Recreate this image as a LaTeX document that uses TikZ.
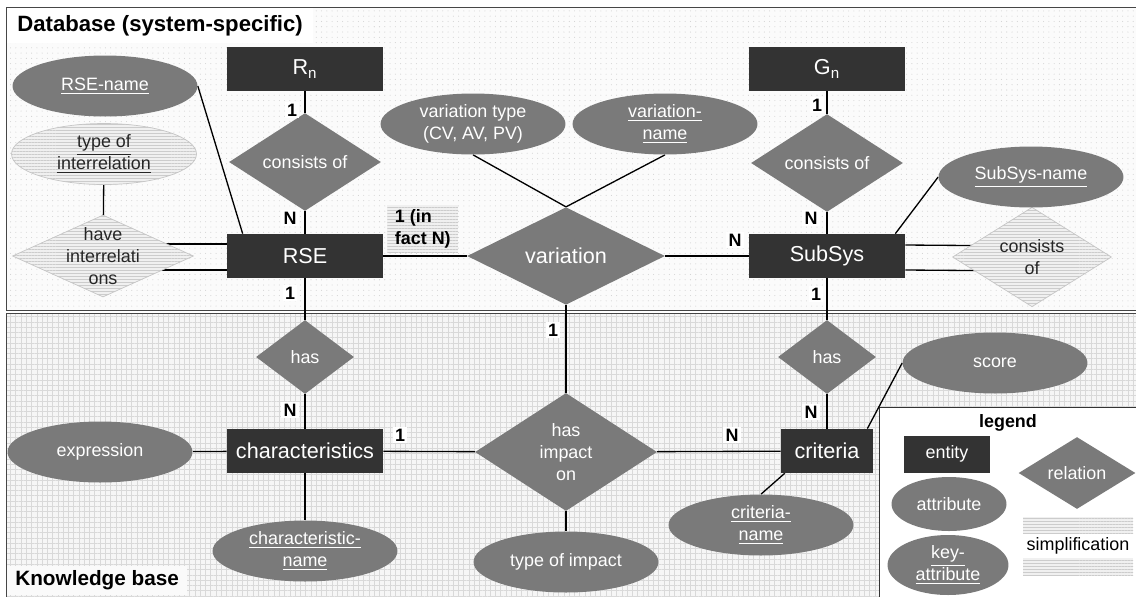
\documentclass[tikz,border=0pt]{standalone}
\usepackage{fontspec}
\setmainfont{Liberation Sans}
\usetikzlibrary{shapes.geometric,backgrounds,patterns.meta}
\newcommand{\entfont}{\fontsize{12.3}{14.5}\selectfont}
\newcommand{\attfont}{\fontsize{10.2}{12.3}\selectfont}

\begin{document}
\begin{tikzpicture}[x=0.02cm, y=-0.02cm,
    entity/.style={rectangle, fill=black!80, text=white, font=\entfont, inner sep=0pt, minimum width=3.12cm, minimum height=0.88cm},
    rel/.style={diamond, inner sep=0pt, font=\attfont, align=center, minimum width=3.04cm, minimum height=1.6cm},
    att/.style={ellipse, inner sep=0pt, font=\attfont, align=center, minimum width=3.7cm, minimum height=1.22cm},
    simpl/.style={preaction={fill=gray!12}, pattern={Lines[angle=0,distance=1.7pt,line width=0.35pt]}, pattern color=gray!40, text=black!85},
    relation/.style={rel, fill=black!52, text=white},
    simprel/.style={rel, simpl, draw=gray!45, thin},
    attribute/.style={att, fill=black!52, text=white},
    simpatt/.style={att, simpl, draw=gray!45, thin},
    card/.style={fill=white, font=\attfont\bfseries, inner sep=1.2pt},
    link/.style={line width=0.75pt}]
    \useasboundingbox (0,0) rectangle (1136,596);

    % entities
    \node[entity] (rn) at (305,69) {R\textsubscript{n}};
    \node[entity] (gn) at (827,69) {G\textsubscript{n}};
    \node[entity] (rse) at (305,256) {RSE};
    \node[entity] (subsys) at (827,256) {SubSys};
    \node[entity] (chars) at (305,451) {characteristics};
    \node[entity, minimum width=1.84cm] (crit) at (827,451) {criteria};

    % relations
    \node[relation] (consrse) at (305,162) {consists of};
    \node[relation] (conssub) at (827,163) {consists of};
    \node[relation, minimum width=3.96cm, minimum height=1.84cm, font=\entfont] (variation) at (566,256) {variation};
    \node[relation, minimum width=1.96cm, minimum height=1.48cm] (hasrse) at (305,357) {has};
    \node[relation, minimum width=1.96cm, minimum height=1.48cm] (hassub) at (827,357) {has};
    \node[relation, minimum width=3.64cm, minimum height=2.36cm] (impact) at (566,452) {has\\impact\\on};
    \node[simprel, minimum width=3.62cm, minimum height=1.64cm,
        label={[font=\attfont, align=center, text=black!85]center:have\\interrelati\\ons}] (interrel) at (103,256) {};
    \node[simprel, minimum width=3.18cm, minimum height=1.62cm] (conspart) at (1032,257) {consists\\of};

    % attributes
    \node[attribute] (rsename) at (105,86) {\underline{RSE-name}};
    \node[simpatt] (reltype) at (104,154) {\underline{type of}\\\underline{interrelation}};
    \node[attribute] (vartype) at (473,124) {variation type\\(CV, AV, PV)};
    \node[attribute] (varname) at (665,124) {\underline{variation-}\\\underline{name}};
    \node[attribute] (subname) at (1031,177) {\underline{SubSys-name}};
    \node[attribute] (expr) at (100,452) {expression};
    \node[attribute] (charname) at (305,551) {\underline{characteristic-}\\\underline{name}};
    \node[attribute] (imptype) at (566,562) {type of impact};
    \node[attribute] (critname) at (761,525) {\underline{criteria-}\\\underline{name}};
    \node[attribute] (score) at (995,363) {score};

    % titles
    \node[anchor=north west, fill=white, font=\fontsize{12.6}{15}\selectfont\bfseries, inner xsep=0.2cm, inner ysep=0.14cm] (dbtitle) at (7,8) {Database (system-specific)};
    \node[anchor=south west, fill=gray!4, font=\fontsize{11.8}{14}\selectfont\bfseries, inner xsep=0.16cm, inner ysep=0.09cm] (kbtitle) at (7,595) {Knowledge base};

    % legend
    \node[font=\attfont\bfseries] (legtitle) at (1008,423) {legend};
    \node[entity, minimum width=1.72cm, minimum height=0.74cm, font=\attfont] (legent) at (947,454) {entity};
    \node[relation, minimum width=2.34cm, minimum height=1.38cm] (legrel) at (1077,473) {relation};
    \node[attribute, minimum width=2.3cm, minimum height=1.08cm] (legatt) at (949,504) {attribute};
    \node[attribute, minimum width=2.42cm, minimum height=1.2cm] (legkey) at (948,565) {\underline{key-}\\\underline{attribute}};
    \node[rectangle, simpl, minimum width=2.2cm, minimum height=1.16cm,
        label={[fill=white, font=\attfont, minimum width=2.2cm, inner ysep=2pt]center:simplification}] (legsim) at (1078,546) {};

    % cardinalities
    \node[card] (c1) at (292,110) {1};
    \node[card] (c2) at (290,218) {N};
    \node[card] (c3) at (290,293) {1};
    \node[card] (c4) at (290,410) {N};
    \node[card] (c5) at (817,105) {1};
    \node[card] (c6) at (811,218) {N};
    \node[card] (c7) at (816,294) {1};
    \node[card] (c8) at (811,412) {N};
    \node[card] (c9) at (400,435) {1};
    \node[card] (c10) at (732,435) {N};
    \node[card] (c11) at (553,330) {1};
    \node[card] (c12) at (735,240) {N};
    \node[rectangle, simpl, anchor=north west, font=\attfont\bfseries, align=left, text=black, minimum width=1.42cm, minimum height=0.94cm, inner sep=0pt] (c13) at (387,205) {1 (in\\fact N)};

    \begin{pgfonlayer}{background}
        \fill[white] (0,0) rectangle (1136,596);
        \draw[gray!55!black, preaction={fill=gray!3}, pattern={Dots[distance=3pt,radius=0.3pt]}, pattern color=gray!35] (6,7) rectangle (1140,310);
        \draw[gray!55!black, preaction={fill=gray!7}, pattern={Hatch[angle=0,distance=3pt,line width=0.45pt]}, pattern color=gray!30] (6,313) rectangle (1140,600);
        \draw[black!80, fill=white] (879,407) rectangle (1140,600);

        % connectors
        \draw[link] (rn) -- (consrse) -- (rse);
        \draw[link] (gn) -- (conssub) -- (subsys);
        \draw[link] (rse) -- (variation) -- (subsys);
        \draw[link] (variation.north) -- (vartype.south) (variation.north) -- (varname.south);
        \draw[link] ([xshift=0.32cm]rse.north west) -- (rsename.east);
        \draw[link] (reltype) -- (interrel);
        \draw[link] ([yshift=0.24cm]rse.west) -- ([yshift=0.24cm]interrel.center);
        \draw[link] ([yshift=-0.28cm]rse.west) -- ([yshift=-0.28cm]interrel.center);
        \draw[link] ([yshift=0.22cm]subsys.east) -- ([yshift=0.22cm]conspart.center);
        \draw[link] ([yshift=-0.28cm]subsys.east) -- ([yshift=-0.28cm]conspart.center);
        \draw[link] ([xshift=-0.2cm]subsys.north east) -- (subname.west);
        \draw[link] (rse) -- (hasrse) -- (chars);
        \draw[link] (subsys) -- (hassub) -- (crit);
        \draw[link] (expr) -- (chars) -- (impact) -- (crit);
        \draw[link] (chars) -- (charname);
        \draw[link] (variation) -- (impact) -- (imptype);
        \draw[link] ([xshift=-0.12cm]crit.north east) -- (score.west);
        \draw[link] ([xshift=0.08cm]crit.south west) -- (critname.north);
    \end{pgfonlayer}
\end{tikzpicture}
\end{document}
